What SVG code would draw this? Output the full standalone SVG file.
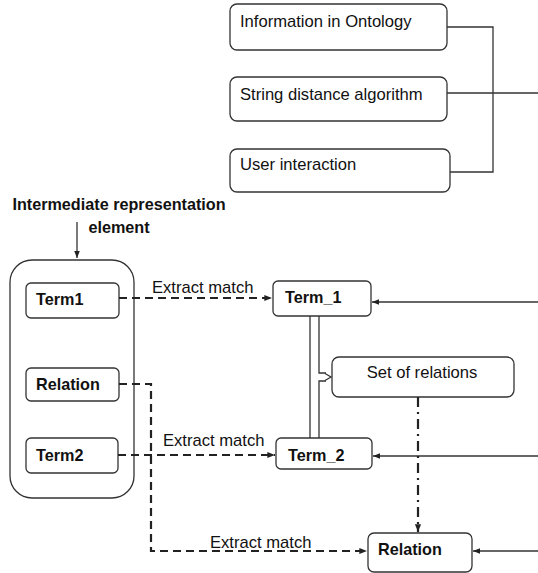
<svg xmlns="http://www.w3.org/2000/svg" width="538" height="573" viewBox="0 0 538 573">
<defs>
<style>
.box{fill:#fff;stroke:#333;stroke-width:1.3}
.t{font-family:"Liberation Sans",Arial,sans-serif;font-size:16.6px;fill:#111}
.b{font-weight:bold;font-size:16.2px}
.ln{fill:none;stroke:#333;stroke-width:1.3}
.dash{fill:none;stroke:#222;stroke-width:2.2;stroke-dasharray:8,5}
.dd{fill:none;stroke:#222;stroke-width:2.2;stroke-dasharray:10,5,2,5}
</style>
<marker id="ah" viewBox="0 0 10 10" refX="10" refY="5" markerWidth="7" markerHeight="7" markerUnits="userSpaceOnUse" orient="auto">
<path d="M0,1 L10,5 L0,9 Z" fill="#222"/>
</marker>
<marker id="ahs" viewBox="0 0 10 10" refX="10" refY="5" markerWidth="3.5" markerHeight="3.5" orient="auto">
<path d="M0,1 L10,5 L0,9 Z" fill="#222"/>
</marker>
</defs>
<g id="info-ontology"><rect class="box" x="230" y="4" width="217" height="46" rx="7"/><text class="t" x="240" y="27">Information in Ontology</text></g>
<g id="string-distance"><rect class="box" x="230" y="77" width="217" height="44" rx="7"/><text class="t" x="240" y="100">String distance algorithm</text></g>
<g id="user-interaction"><rect class="box" x="230" y="149" width="220" height="43" rx="7"/><text class="t" x="240" y="170">User interaction</text></g>
<g id="ire-label"><text class="t b" x="119" y="210" text-anchor="middle">Intermediate representation</text><text class="t b" x="119" y="233" text-anchor="middle">element</text></g>
<g id="container"><rect class="box" x="10" y="260" width="124" height="238" rx="22"/></g>
<g id="term1"><rect class="box" x="26" y="283" width="93" height="35" rx="5"/><text class="t b" x="36" y="305">Term1</text></g>
<g id="relation-left"><rect class="box" x="26" y="368" width="93" height="33" rx="5"/><text class="t b" x="36" y="390">Relation</text></g>
<g id="term2"><rect class="box" x="26" y="438" width="92" height="35" rx="5"/><text class="t b" x="36" y="461">Term2</text></g>
<g id="term_1"><rect class="box" x="273" y="281" width="98" height="35" rx="5"/><text class="t b" x="285" y="303">Term_1</text></g>
<g id="set-of-relations"><rect class="box" x="332" y="357" width="182" height="40" rx="7"/><text class="t" x="422" y="378" text-anchor="middle">Set of relations</text></g>
<g id="term_2"><rect class="box" x="276" y="438" width="96" height="31" rx="5"/><text class="t b" x="288" y="461">Term_2</text></g>
<g id="relation-right"><rect class="box" x="368" y="533" width="104" height="39" rx="6"/><text class="t b" x="378" y="555">Relation</text></g>
<g id="connectors">
<path class="ln" d="M447,27 H493 V172 H450"/>
<path class="ln" d="M447,93 H538"/>
<path class="ln" d="M77,222 V258" marker-end="url(#ah)"/>
<path class="ln" d="M538,302 H372" marker-end="url(#ah)"/>
<path class="ln" d="M538,456 H373" marker-end="url(#ah)"/>
<path class="ln" d="M538,551 H473" marker-end="url(#ah)"/>
<path class="ln" d="M310,316 V438"/>
<path class="ln" d="M319,316 V373 H326 M319,438 V381 H326"/>
<path class="ln" d="M325,373.5 L331,377 L325,380.5"/>
<path class="dash" d="M119,298 H272" marker-end="url(#ahs)"/>
<path class="dash" d="M118,455 H275" marker-end="url(#ahs)"/>
<path class="dash" d="M119,384 H151 V551 H367" marker-end="url(#ahs)"/>
<path class="dd" d="M418,397 V532" marker-end="url(#ahs)"/>
<text class="t" x="152" y="293">Extract match</text>
<text class="t" x="163" y="446">Extract match</text>
<text class="t" x="210" y="548">Extract match</text>
</g>
</svg>
